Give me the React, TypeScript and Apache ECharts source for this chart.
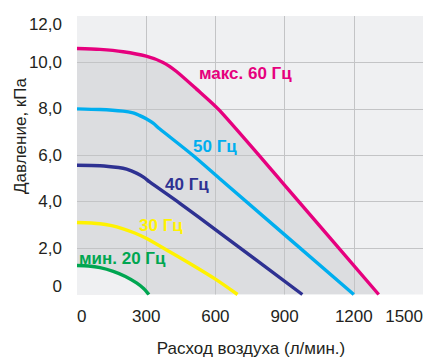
import React, { useEffect, useRef } from "react";
import * as echarts from "echarts";

// Airflow (l/min) and pressure (kPa) points for each fan frequency
const flow60 = [0, 100, 200, 300, 373, 430, 517, 618, 884, 1308];
const press60 = [10.6, 10.56, 10.46, 10.27, 10.0, 9.62, 8.86, 7.93, 4.9, 0];

const flow50 = [0, 100, 200, 243, 270, 300, 330, 358, 502, 618, 1200];
const press50 = [8.0, 7.97, 7.9, 7.83, 7.72, 7.57, 7.38, 7.14, 6.0, 5.0, 0];

const flow40 = [0, 100, 180, 215, 260, 290, 315, 446, 600, 977];
const press40 = [5.57, 5.55, 5.47, 5.4, 5.22, 5.05, 4.85, 3.93, 2.8, 0];

const flow30 = [0, 100, 150, 200, 250, 300, 400, 500, 600, 696];
const press30 = [3.1, 3.05, 2.97, 2.83, 2.65, 2.42, 1.85, 1.27, 0.66, 0];

const flow20 = [0, 50, 100, 157, 210, 258, 290, 312];
const press20 = [1.25, 1.23, 1.16, 1.0, 0.78, 0.5, 0.25, 0];

const xTicks = [0, 300, 600, 900, 1200, 1500];
const yTicks = [0, 2, 4, 6, 8, 10, 12];

const curveNames = ["макс. 60 Гц", "50 Гц", "40 Гц", "30 Гц", "мин. 20 Гц"];
const curveColors = ["#e6007e", "#00aeef", "#2e3192", "#fff200", "#00a651"];

const xName = "Расход воздуха (л/мин.)";
const yName = "Давление, кПа";

const FONT = "'Liberation Sans', Arial, Helvetica, sans-serif";
const TEXT = "#231f20";
const SMOOTH = 0.25;

const zip = (xs: number[], ys: number[]) => xs.map((x, i) => [x, ys[i]]);

export default function App() {
  const ref = useRef<HTMLDivElement>(null);

  useEffect(() => {
    if (!ref.current) return;
    const chart = echarts.init(ref.current, undefined, { renderer: "svg" });

    const curves = [
      zip(flow60, press60),
      zip(flow50, press50),
      zip(flow40, press40),
      zip(flow30, press30),
      zip(flow20, press20),
    ];

    const lineSeries = curves.map((data, i) => ({
      name: curveNames[i],
      type: "line",
      data,
      z: 4,
      symbol: "none",
      smooth: SMOOTH,
      lineStyle: { color: curveColors[i], width: 3.4 },
    }));

    // Working region under the top curve and the region below the bottom one
    const areaSeries = [
      {
        type: "line",
        data: curves[0],
        z: 1,
        symbol: "none",
        smooth: SMOOTH,
        lineStyle: { width: 0 },
        areaStyle: { color: "#dcdde0", opacity: 1 },
      },
      {
        type: "line",
        data: curves[4],
        z: 2,
        symbol: "none",
        smooth: SMOOTH,
        lineStyle: { width: 0 },
        areaStyle: { color: "#eff0f2", opacity: 1 },
      },
    ];

    const labelPos = [
      [199, 73],
      [193, 146],
      [165, 184],
      [139, 225],
      [79, 258],
    ];

    chart.setOption({
      animation: false,
      grid: {
        left: 77,
        right: 8,
        top: 16,
        bottom: 62.5,
        show: true,
        backgroundColor: "#eff0f2",
        borderWidth: 0,
      },
      xAxis: {
        type: "value",
        min: xTicks[0],
        max: xTicks[xTicks.length - 1],
        interval: 300,
        z: 3,
        axisLine: { show: false },
        axisTick: { show: false },
        splitLine: {
          show: true,
          showMinLine: false,
          showMaxLine: false,
          lineStyle: { color: "#c3c4c6", width: 1 },
        },
        axisLabel: {
          color: TEXT,
          fontFamily: FONT,
          fontSize: 17,
          margin: 13,
          alignMinLabel: "left",
          alignMaxLabel: "right",
          formatter: (v: number) => String(v),
        },
      },
      yAxis: {
        type: "value",
        min: yTicks[0],
        max: yTicks[yTicks.length - 1],
        interval: 2,
        z: 3,
        axisLine: { show: false },
        axisTick: { show: false },
        splitLine: {
          show: true,
          showMinLine: false,
          showMaxLine: false,
          lineStyle: { color: "#c3c4c6", width: 1 },
        },
        axisLabel: {
          color: TEXT,
          fontFamily: FONT,
          fontSize: 17,
          margin: 15,
          verticalAlignMinLabel: "bottom",
          verticalAlignMaxLabel: "top",
          formatter: (v: number) => (v === 0 ? "0" : v.toFixed(1).replace(".", ",")),
        },
      },
      graphic: [
        ...curveNames.map((name, i) => ({
          type: "text",
          x: labelPos[i][0],
          y: labelPos[i][1],
          z: 10,
          style: {
            text: name,
            fill: curveColors[i],
            font: `bold 17px ${FONT}`,
            align: "left",
            verticalAlign: "middle",
          },
        })),
        {
          type: "text",
          x: 251,
          y: 348,
          style: {
            text: xName,
            fill: TEXT,
            font: `17px ${FONT}`,
            align: "center",
            verticalAlign: "middle",
          },
        },
        {
          type: "text",
          x: 20,
          y: 136,
          rotation: Math.PI / 2,
          style: {
            text: yName,
            fill: TEXT,
            font: `17px ${FONT}`,
            align: "center",
            verticalAlign: "middle",
          },
        },
      ],
      series: [...areaSeries, ...lineSeries],
    });

    return () => chart.dispose();
  }, []);

  return <div ref={ref} style={{ width: 431, height: 357, position: "absolute", left: 0, top: 0 }} />;
}
